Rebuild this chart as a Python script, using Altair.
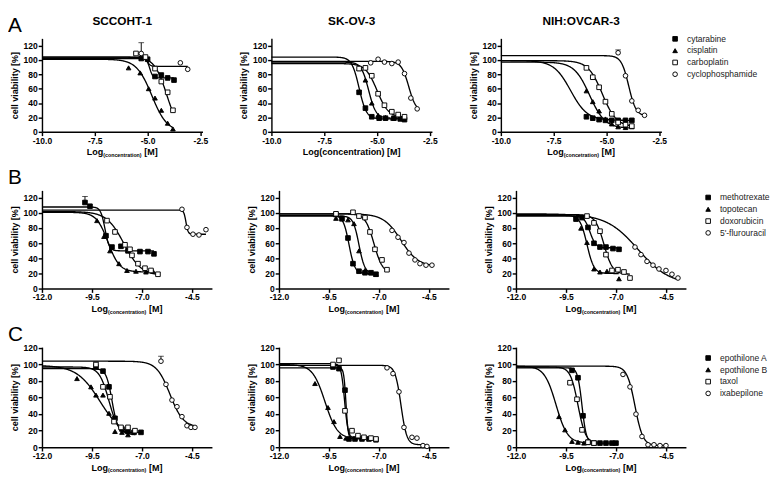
import altair as alt
import pandas as pd

FONT = "Liberation Sans"

CELL_LINES = ["SCCOHT-1", "SK-OV-3", "NIH:OVCAR-3"]
ROW_LETTERS = ["A", "B", "C"]
DRUGS_A = ["cytarabine", "cisplatin", "carboplatin", "cyclophosphamide"]
DRUGS_B = ["methotrexate", "topotecan", "doxorubicin", "5'-flurouracil"]
DRUGS_C = ["epothilone A", "epothilone B", "taxol", "ixabepilone"]

X_TICKS_A = [-10.0, -7.5, -5.0, -2.5]
X_TICKS_BC = [-12.0, -9.5, -7.0, -4.5]
Y_TICKS = [0, 20, 40, 60, 80, 100, 120]
# x titles: (main, subscript, tail); subscript None -> plain single line
XT_SUB = ("Log", "(concentration)", "[M]")
XT_PLAIN = ("Log(concentration) [M]", None, None)
XT_TYPO = ("Log", "(concetration)", "[M]")
Y_TITLE = "cell viability [%]"

# ---------------- Row A : SCCOHT-1 / SK-OV-3 / NIH:OVCAR-3 ----------------
A1_X = [[-5.3, -5.0, -4.65, -4.35, -4.05, -3.75],
        [-5.9, -5.35, -4.95, -4.65, -4.35, -4.05, -3.8],
        [-5.55, -5.1, -4.65, -4.35, -4.05, -3.8],
        [-5.3, -3.45, -3.1]]
A1_Y = [[102, 101, 77, 79, 75, 72],
        [89, 82, 60, 47, 30, 12, 4],
        [109, 104, 88, 70, 55, 30],
        [109, 96, 87]]
A1_ERR = {3: [15, 0, 0]}
A1_FIT = [(102, 75, -4.9, 6), (101, 0, -4.8, 1.2), (104, 0, -4.1, 1.5), (104, 91, -5.0, 6)]

A2_X = [[-5.85, -5.55, -5.25, -4.9, -4.6, -4.2, -3.9, -3.7],
        [-5.85, -5.55, -5.25, -4.95, -4.6, -4.25, -3.9, -3.7],
        [-5.85, -5.55, -5.25, -4.95, -4.65, -4.3, -4.0, -3.7],
        [-5.3, -4.95, -4.65, -4.3, -4.0, -3.7, -3.4, -3.1]]
A2_Y = [[55, 33, 21, 19, 19, 19, 18, 17],
        [88, 72, 40, 23, 20, 19, 19, 20],
        [88, 89, 78, 53, 37, 28, 24, 21],
        [96, 101, 97, 95, 97, 81, 47, 32]]
A2_ERR = {}
A2_FIT = [(104, 18, -5.85, 2.5), (97, 19, -5.4, 2.5), (95, 20, -5.0, 1.6), (98, 28, -3.5, 2.5)]

A3_X = [[-5.95, -5.65, -5.35, -5.05, -4.75, -4.45, -4.1, -3.8],
        [-5.95, -5.65, -5.35, -5.05, -4.75, -4.45, -4.1, -3.8],
        [-5.95, -5.65, -5.35, -5.05, -4.75, -4.45, -4.1, -3.8],
        [-4.45, -4.1, -3.8, -3.5, -3.2]]
A3_Y = [[21, 19, 17, 16, 16, 16, 16, 16],
        [57, 42, 29, 18, 11, 7, 6, 7],
        [89, 76, 62, 42, 25, 13, 10, 8],
        [110, 78, 43, 30, 23]]
A3_ERR = {3: [4, 0, 0, 0, 0]}
A3_FIT = [(99, 16, -6.7, 1.1), (97, 5, -5.8, 1.2), (99, 7, -5.2, 1.3), (106, 22, -3.95, 2.5)]

# ---------------- Row B ----------------
B1_X = [[-9.85, -9.6, -8.8, -8.5, -8.05, -7.7, -7.1, -6.7, -6.4],
        [-9.25, -8.9, -8.6, -8.15, -7.75, -7.3, -6.8, -6.45],
        [-8.75, -8.35, -7.85, -7.6, -7.5, -7.2, -6.85, -6.55, -6.2],
        [-5.0, -4.75, -4.45, -4.15, -3.8]]
B1_Y = [[114, 109, 70, 55, 56, 50, 49, 49, 46],
        [90, 69, 50, 33, 24, 23, 22, 23],
        [90, 75, 58, 52, 44, 33, 27, 24, 19],
        [105, 81, 72, 71, 78]]
B1_ERR = {0: [8, 0, 0, 0, 0, 0, 0, 0, 0]}
B1_FIT = [(108, 50, -8.85, 4), (101, 22, -8.7, 1.5), (102, 17, -7.9, 1.0), (104, 72, -4.8, 8)]

B2_X = [[-9.15, -8.85, -8.55, -8.3, -8.0, -7.7, -7.4, -7.15],
        [-9.15, -8.85, -8.55, -8.25, -8.0, -7.7, -7.4, -7.15],
        [-9.15, -8.3, -8.0, -7.7, -7.45, -7.2, -6.85, -6.6],
        [-6.35, -6.05, -5.75, -5.5, -5.2, -4.95, -4.65, -4.35]]
B2_Y = [[98, 93, 67, 33, 23, 21, 21, 19],
        [93, 92, 91, 86, 50, 24, 21, 19],
        [99, 101, 96, 94, 75, 52, 38, 25],
        [77, 68, 61, 47, 38, 33, 31, 31]]
B2_ERR = {}
B2_FIT = [(97, 20, -8.5, 3), (96, 20, -8.0, 3), (99, 20, -7.25, 2), (99, 29, -5.9, 1.0)]

B3_X = [[-9.0, -8.7, -8.4, -8.1, -7.8, -7.5, -7.15, -6.85],
        [-8.75, -8.45, -8.1, -7.8, -7.45, -6.85],
        [-8.45, -8.1, -7.8, -7.5, -7.2, -6.9, -6.6, -6.3],
        [-6.05, -5.75, -5.45, -5.15, -4.85, -4.5, -4.2, -3.9]]
B3_Y = [[92, 94, 81, 60, 55, 55, 53, 52],
        [80, 61, 26, 22, 23, 13],
        [96, 87, 76, 45, 24, 25, 22, 14],
        [55, 45, 36, 31, 26, 24, 19, 14]]
B3_ERR = {}
B3_FIT = [(96, 54, -8.3, 3), (97, 20, -8.45, 2.5), (98, 19, -7.6, 2), (99, 5, -5.9, 0.55)]

# ---------------- Row C ----------------
C1_X = [[-9.3, -8.95, -8.65, -8.35, -8.0, -7.7, -7.4, -7.05],
        [-10.25, -9.55, -9.3, -8.95, -8.65, -8.35, -8.0, -7.7],
        [-9.3, -8.95, -8.6, -8.4, -8.05, -7.7, -7.35],
        [-6.05, -5.8, -5.5, -5.25, -5.0, -4.75, -4.55, -4.35]]
C1_Y = [[97, 92, 73, 35, 22, 19, 18, 18],
        [83, 73, 63, 63, 41, 19, 18, 15],
        [100, 73, 61, 31, 24, 24, 20],
        [104, 76, 57, 49, 37, 26, 24, 24]]
C1_ERR = {0: [6, 0, 0, 0, 0, 0, 0, 0], 3: [6, 0, 0, 0, 0, 0, 0, 0]}
C1_FIT = [(95, 18, -8.5, 3), (99, 12, -9.1, 0.75), (97, 15, -8.65, 1.8), (104, 24, -5.6, 1.3)]

C2_X = [[-9.3, -9.0, -8.7, -8.5, -8.2, -7.85, -7.5, -7.15],
        [-10.2, -9.55, -9.25, -8.95, -8.65],
        [-9.3, -9.0, -8.7, -8.35, -8.05, -7.75, -7.4, -7.15],
        [-6.6, -6.3, -6.0, -5.75, -5.35, -5.1, -4.8, -4.6]]
C2_Y = [[97, 95, 69, 10, 10, 10, 10, 9],
        [77, 48, 31, 13, 11],
        [100, 105, 44, 20, 14, 12, 11, 10],
        [96, 89, 67, 24, 12, 11, 2, 1]]
C2_ERR = {}
C2_FIT = [(96, 10, -8.65, 8), (100, 10, -9.7, 1.4), (101, 11, -8.72, 5), (99, 3, -5.9, 3)]

C3_X = [[-9.2, -8.9, -8.65, -8.4, -8.1, -7.8, -7.5, -7.2, -7.0],
        [-9.85, -9.55, -9.2, -8.9, -8.6],
        [-9.3, -8.95, -8.7, -8.4, -8.1],
        [-6.65, -6.3, -6.0, -5.7, -5.4, -5.1, -4.8, -4.5]]
C3_Y = [[93, 84, 38, 6, 5, 5, 5, 5, 5],
        [37, 21, 7, 6, 5],
        [78, 58, 21, 6, 5],
        [88, 73, 40, 13, 3, 3, 2, 2]]
C3_ERR = {}
C3_FIT = [(96, 5, -8.7, 4), (98, 5, -10.0, 1.5), (97, 5, -8.9, 2.3), (98, 2, -6.05, 2.2)]

# ---------------- styling ----------------
SHAPES = ["square", "triangle-up", "square", "circle"]
FILLS = ["black", "black", "white", "white"]
STROKES = ["black"] * 4
SYM_SIZE = 24
LABEL_EXPR = "replace(format(datum.value, '.1f'), '\u2212', '-')"
MAIN_FS, SUB_FS = 9.5, 5.6

# Arial/Liberation Sans Bold advance widths (per 1000 em) for the axis-title glyphs
BOLD_W = {" ": 278, "(": 333, ")": 333, "[": 333, "]": 333, "L": 611, "M": 833, "o": 611,
          "g": 611, "c": 556, "n": 611, "e": 556, "t": 333, "r": 389, "a": 556, "i": 278}


def text_w(s, fs):
    return sum(BOLD_W.get(ch, 556) for ch in s) * fs / 1000.0


def x_title_layers(xt, width, height):
    main, sub, tail = xt
    base_y = height + 25

    def t(txt, x, y, fs, align):
        return alt.Chart(pd.DataFrame({"t": [txt]})).mark_text(
            font=FONT, fontSize=fs, fontWeight="bold", align=align, baseline="alphabetic",
            color="black").encode(text="t:N", x=alt.value(x), y=alt.value(y))
    if sub is None:
        return [t(main, width / 2, base_y, MAIN_FS, "center")]
    gap = text_w(" ", MAIN_FS)
    w1, w2, w3 = text_w(main, MAIN_FS), text_w(sub, SUB_FS), text_w(tail, MAIN_FS)
    x0 = width / 2 - (w1 + w2 + gap + w3) / 2
    return [t(main, x0, base_y, MAIN_FS, "left"),
            t(sub, x0 + w1, base_y + 1.5, SUB_FS, "left"),
            t(tail, x0 + w1 + w2 + gap, base_y, MAIN_FS, "left")]


def panel(xs, ys, errs, fits, drugs, xdom, xticks, ydom, width, height, xt,
          title=None, letter=None, legend_xy=None):
    rows = []
    for k, (xl, yl) in enumerate(zip(xs, ys)):
        el = errs.get(k, [0] * len(xl))
        for x, y, e in zip(xl, yl, el):
            rows.append({"drug": drugs[k], "x": x, "y": y, "err": e})
    pts = pd.DataFrame(rows)
    fit = pd.DataFrame({
        "drug": drugs,
        "top": [f[0] for f in fits], "bottom": [f[1] for f in fits],
        "ec50": [f[2] for f in fits], "hill": [f[3] for f in fits],
        "xmin": [xdom[0]] * 4, "xmax": [max(xl) for xl in xs],
    })
    xs_scale = alt.Scale(domain=xdom, nice=False, zero=False)
    ys_scale = alt.Scale(domain=ydom, nice=False, zero=False)
    xaxis = alt.Axis(values=xticks, labelExpr=LABEL_EXPR, title=None, grid=False,
                     labelOverlap=False)
    yaxis = alt.Axis(values=Y_TICKS, title=Y_TITLE, grid=False, labelOverlap=False)

    def X(field):
        return alt.X(field, scale=xs_scale, axis=xaxis)

    def Y(field):
        return alt.Y(field, scale=ys_scale, axis=yaxis)

    curves = alt.Chart(fit).transform_calculate(
        cx="sequence(datum.xmin, datum.xmax + 0.005, 0.02)"
    ).transform_flatten(["cx"]).transform_calculate(
        cy="datum.bottom + (datum.top - datum.bottom) / (1 + pow(10, (datum.cx - datum.ec50) * datum.hill))"
    ).mark_line(color="black", strokeWidth=1.4).encode(
        x=X("cx:Q"), y=Y("cy:Q"), detail="drug:N", order="cx:Q",
    )
    eb = alt.Chart(pts).transform_filter("datum.err > 0").transform_calculate(
        yt="datum.y + datum.err")
    err_rule = eb.mark_rule(color="black", strokeWidth=1).encode(
        x=X("x:Q"), y=Y("y:Q"), y2="yt:Q")
    err_cap = eb.mark_tick(color="black", thickness=1, size=6, orient="horizontal").encode(
        x=X("x:Q"), y=Y("yt:Q"))

    if legend_xy is not None:
        leg = alt.Legend(title=None, orient="none", legendX=legend_xy[0], legendY=legend_xy[1],
                         labelFont=FONT, labelFontSize=9, labelColor="#222",
                         symbolStrokeWidth=1, symbolSize=SYM_SIZE,
                         rowPadding=2.5, labelOffset=8, padding=0)
    else:
        leg = None
    points = alt.Chart(pts).mark_point(
        filled=True, strokeWidth=1, size=SYM_SIZE, opacity=1
    ).encode(
        x=X("x:Q"), y=Y("y:Q"),
        shape=alt.Shape("drug:N", scale=alt.Scale(domain=drugs, range=SHAPES), legend=leg),
        fill=alt.Fill("drug:N", scale=alt.Scale(domain=drugs, range=FILLS), legend=leg),
        stroke=alt.Stroke("drug:N", scale=alt.Scale(domain=drugs, range=STROKES), legend=leg),
    )
    layers = [curves, err_rule, err_cap, points] + x_title_layers(xt, width, height)
    if title is not None:
        tt = alt.Chart(pd.DataFrame({"t": [title]})).mark_text(
            font=FONT, fontSize=12.5, fontWeight="bold", align="center",
            baseline="alphabetic", color="black"
        ).encode(text="t:N", x=alt.value(width / 2), y=alt.value(-14))
        layers.append(tt)
    if letter is not None:
        lt = alt.Chart(pd.DataFrame({"t": [letter]})).mark_text(
            font=FONT, fontSize=22, align="left", baseline="alphabetic", color="black"
        ).encode(text="t:N", x=alt.value(-36), y=alt.value(-7))
        layers.append(lt)
    return alt.layer(*layers).properties(width=width, height=height)


XDOM_A = [-10.0, -2.4]
XDOM_BC = [-12.0, -3.5]
W_A, W_BC = 170, 180
H_A, H_B, H_C = 99, 104, 106
YDOM_AB = [0, 130]
YDOM_C = [0, 121]
RES = dict(shape="independent", fill="independent", stroke="independent")

rowA = alt.hconcat(
    panel(A1_X, A1_Y, A1_ERR, A1_FIT, DRUGS_A, XDOM_A, X_TICKS_A, YDOM_AB, W_A, H_A,
          XT_SUB, CELL_LINES[0], ROW_LETTERS[0]),
    panel(A2_X, A2_Y, A2_ERR, A2_FIT, DRUGS_A, XDOM_A, X_TICKS_A, YDOM_AB, W_A, H_A,
          XT_PLAIN, CELL_LINES[1]),
    panel(A3_X, A3_Y, A3_ERR, A3_FIT, DRUGS_A, XDOM_A, X_TICKS_A, YDOM_AB, W_A, H_A,
          XT_TYPO, CELL_LINES[2], legend_xy=(180, -4)),
    spacing=32,
).resolve_scale(**RES)
rowB = alt.hconcat(
    panel(B1_X, B1_Y, B1_ERR, B1_FIT, DRUGS_B, XDOM_BC, X_TICKS_BC, YDOM_AB, W_BC, H_B,
          XT_SUB, None, ROW_LETTERS[1]),
    panel(B2_X, B2_Y, B2_ERR, B2_FIT, DRUGS_B, XDOM_BC, X_TICKS_BC, YDOM_AB, W_BC, H_B, XT_SUB),
    panel(B3_X, B3_Y, B3_ERR, B3_FIT, DRUGS_B, XDOM_BC, X_TICKS_BC, YDOM_AB, W_BC, H_B, XT_SUB,
          legend_xy=(199, 3)),
    spacing=36,
).resolve_scale(**RES)
rowC = alt.hconcat(
    panel(C1_X, C1_Y, C1_ERR, C1_FIT, DRUGS_C, XDOM_BC, X_TICKS_BC, YDOM_C, W_BC, H_C,
          XT_SUB, None, ROW_LETTERS[2]),
    panel(C2_X, C2_Y, C2_ERR, C2_FIT, DRUGS_C, XDOM_BC, X_TICKS_BC, YDOM_C, W_BC, H_C, XT_SUB),
    panel(C3_X, C3_Y, C3_ERR, C3_FIT, DRUGS_C, XDOM_BC, X_TICKS_BC, YDOM_C, W_BC, H_C, XT_SUB,
          legend_xy=(199, 7)),
    spacing=36,
).resolve_scale(**RES)

lower = alt.vconcat(rowB, rowC, spacing=8).resolve_scale(**RES)
chart = alt.vconcat(rowA, lower, spacing=8).resolve_scale(**RES).properties(
    padding={"left": 0, "top": -7, "right": 0, "bottom": 0}
).configure_view(stroke=None).configure_axis(
    domainColor="black", domainWidth=1.5, tickColor="black", tickWidth=1.5, tickSize=4,
    labelFont=FONT, labelFontSize=9, labelFontWeight="bold", labelColor="black",
    labelPadding=1, titleFont=FONT, titleFontWeight="bold", titleColor="black",
).configure_axisX(labelFlush=False) \
 .configure_axisY(titleFontSize=9.5, titlePadding=4)

chart.save("out.html", embed_options={"renderer": "svg", "actions": False})
